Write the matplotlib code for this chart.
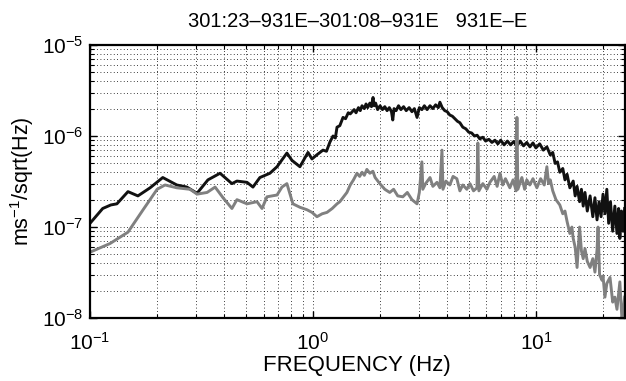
import matplotlib.pyplot as plt
import numpy as np

plt.rcParams['font.family'] = ['Liberation Sans', 'DejaVu Sans']
plt.rcParams['mathtext.fontset'] = 'custom'
plt.rcParams['mathtext.rm'] = 'Liberation Sans'
plt.rcParams['mathtext.it'] = 'Liberation Sans'

# spectrum of the first record (black)
freq_a = [0.100, 0.114, 0.124, 0.132, 0.148, 0.164, 0.186, 0.212, 0.245, 0.272,
          0.302, 0.338, 0.383, 0.433, 0.456, 0.506, 0.538, 0.578, 0.641, 0.690,
          0.764, 0.805, 0.874, 0.950, 0.990, 1.04, 1.109, 1.15, 1.192, 1.23,
          1.26, 1.282, 1.32, 1.364, 1.40, 1.44, 1.47,
          1.50, 1.53, 1.56, 1.60, 1.63, 1.66, 1.70, 1.73, 1.76, 1.80,
          1.83, 1.86, 1.88, 1.91, 1.95, 2.00, 2.05, 2.10, 2.15, 2.20,
          2.25, 2.28, 2.31, 2.36, 2.42, 2.48, 2.55, 2.62, 2.70, 2.78,
          2.85, 2.93, 3.00, 3.08, 3.16, 3.25, 3.35, 3.45, 3.55, 3.65,
          3.71, 3.80, 3.90, 4.00, 4.11, 4.22, 4.33, 4.45, 4.56, 4.70,
          4.85, 5.00, 5.15, 5.30, 5.45, 5.60, 5.78, 5.95, 6.15, 6.35,
          6.55, 6.75, 6.95, 7.20, 7.45, 7.70, 7.95, 8.22, 8.50, 8.80,
          9.10, 9.40, 9.70, 10.0, 10.4, 10.8, 11.2, 11.6, 11.9, 12.2,
          12.5, 12.8, 13.2, 13.5, 13.8, 14.2, 14.7, 15.0, 15.3, 15.7,
          16.0, 16.3, 16.6, 17.0, 17.5, 18.0, 18.4, 18.8, 19.2, 19.6,
          20.0, 20.4, 20.8, 21.2, 21.6, 22.1, 22.6, 23.1, 23.5, 23.8,
          24.2, 24.6, 25.0]
amp_a = [0.110, 0.160, 0.175, 0.180, 0.245, 0.220, 0.270, 0.350, 0.290, 0.275,
         0.235, 0.330, 0.390, 0.300, 0.320, 0.310, 0.275, 0.350, 0.390, 0.460,
         0.650, 0.540, 0.460, 0.660, 0.560, 0.620, 0.700, 0.680, 0.860, 1.00,
         0.950, 1.25, 1.30, 1.60, 1.55, 1.80, 1.75,
         1.85, 1.95, 1.80, 2.05, 1.90, 2.15, 2.00, 2.25, 2.05, 2.30,
         2.10, 2.65, 2.15, 2.30, 1.95, 2.15, 1.95, 2.10, 1.90, 2.05,
         1.85, 1.50, 2.00, 1.90, 2.15, 1.95, 2.10, 1.90, 2.05, 1.85,
         2.00, 1.60, 2.05, 1.95, 2.15, 1.95, 2.15, 2.00, 2.20, 2.05,
         2.35, 2.05, 1.90, 1.85, 1.70, 1.65, 1.55, 1.45, 1.40, 1.25,
         1.20, 1.10, 1.08, 1.00, 1.02, 0.93, 0.97, 0.88, 0.92, 0.85,
         0.90, 0.82, 0.90, 0.80, 0.88, 0.80, 0.87, 0.78, 0.88, 0.78,
         0.85, 0.76, 0.84, 0.74, 0.82, 0.70, 0.76, 0.62, 0.66, 0.50,
         0.52, 0.40, 0.44, 0.33, 0.38, 0.27, 0.32, 0.22, 0.28, 0.19,
         0.26, 0.17, 0.24, 0.15, 0.22, 0.13, 0.21, 0.12, 0.19, 0.13,
         0.23, 0.14, 0.26, 0.11, 0.19, 0.09, 0.17, 0.085, 0.16, 0.075,
         0.15, 0.09, 0.16]

# spectrum of the second record (grey)
freq_b = [0.100, 0.123, 0.148, 0.173, 0.200, 0.217, 0.245, 0.281, 0.302, 0.335,
          0.364, 0.395, 0.433, 0.456, 0.506, 0.561, 0.591, 0.622, 0.690, 0.726,
          0.764, 0.813, 0.874, 0.940, 0.990, 1.042, 1.10, 1.156, 1.22, 1.282,
          1.32, 1.42, 1.47, 1.52, 1.575, 1.62, 1.66, 1.70, 1.745, 1.80,
          1.857, 1.90, 1.995, 2.10, 2.21, 2.30, 2.40, 2.53, 2.65, 2.78,
          2.93, 3.00, 3.08, 3.11, 3.20, 3.35, 3.45, 3.60, 3.71, 3.79,
          3.83, 3.95, 4.11, 4.25, 4.42, 4.56, 4.70, 4.90, 5.06, 5.25,
          5.44, 5.49, 5.55, 5.78, 6.03, 6.22, 6.50, 6.70, 6.90, 7.10,
          7.30, 7.64, 7.90, 8.15, 8.22, 8.30, 8.65, 8.90, 9.10, 9.39,
          9.70, 10.1, 10.5, 10.9, 11.2, 11.4, 11.6, 11.9, 12.3, 12.8,
          13.2, 13.5, 13.8, 14.2, 14.5, 14.7, 15.0, 15.3, 15.7, 16.0,
          16.3, 16.6, 17.0, 17.5, 18.0, 18.4, 18.8, 19.0, 19.3, 19.8,
          20.0, 20.4, 20.8, 21.5, 22.1, 22.6, 23.1, 23.8, 24.3, 24.6,
          25.0]
amp_b = [0.053, 0.066, 0.088, 0.155, 0.260, 0.290, 0.270, 0.260, 0.230, 0.240,
         0.275, 0.210, 0.160, 0.200, 0.180, 0.190, 0.160, 0.215, 0.225, 0.275,
         0.300, 0.180, 0.165, 0.155, 0.145, 0.130, 0.140, 0.145, 0.160, 0.180,
         0.190, 0.240, 0.290, 0.330, 0.390, 0.360, 0.400, 0.370, 0.430, 0.390,
         0.410, 0.350, 0.300, 0.260, 0.240, 0.260, 0.220, 0.215, 0.240, 0.200,
         0.180, 0.240, 0.520, 0.260, 0.300, 0.350, 0.280, 0.310, 0.270, 0.700,
         0.260, 0.320, 0.290, 0.360, 0.340, 0.250, 0.290, 0.260, 0.300, 0.250,
         0.270, 0.840, 0.250, 0.300, 0.260, 0.310, 0.360, 0.280, 0.390, 0.290,
         0.340, 0.270, 0.330, 0.250, 1.600, 0.260, 0.350, 0.260, 0.330, 0.290,
         0.340, 0.270, 0.340, 0.290, 0.460, 0.300, 0.330, 0.250, 0.200, 0.175,
         0.140, 0.150, 0.115, 0.085, 0.100, 0.075, 0.060, 0.036, 0.100, 0.055,
         0.045, 0.058, 0.042, 0.036, 0.045, 0.032, 0.056, 0.100, 0.030, 0.026,
         0.029, 0.017, 0.024, 0.028, 0.015, 0.017, 0.0125, 0.025, 0.010, 0.011,
         0.017]

amp_a = np.array(amp_a) * 1e-6
amp_b = np.array(amp_b) * 1e-6

fig = plt.figure(figsize=(6.26, 3.81), dpi=100)
ax = fig.add_axes([0.1438, 0.165, 0.854, 0.717])

ax.loglog(freq_a, amp_a, color='#111111', linewidth=2.1)
ax.loglog(freq_b, amp_b, color='#808080', linewidth=2.1)

ax.set_xlim(0.1, 25)
ax.set_ylim(1e-8, 1e-5)

ax.grid(True, which='both', color='black', linestyle=(0, (1, 3)), linewidth=0.6)
ax.tick_params(which='both', direction='in', top=True, right=True, labelsize=15)
ax.tick_params(axis='x', which='major', pad=10)
ax.tick_params(axis='y', which='major', pad=5)
ax.tick_params(which='major', length=5, width=1)
ax.tick_params(which='minor', length=3, width=0.8)
for s in ax.spines.values():
    s.set_linewidth(1.6)

ax.set_xlabel('FREQUENCY (Hz)', fontsize=16, labelpad=1)
ax.set_ylabel(r'ms$^{-1}$/sqrt(Hz)', fontsize=15.5, labelpad=4)
ax.text(0.5, 1.085, '301:23\u2013931E\u2013301:08\u2013931E   931E\u2013E',
        transform=ax.transAxes, ha='center', va='center', fontsize=14.5)

fig.savefig('out.png', dpi=100)
